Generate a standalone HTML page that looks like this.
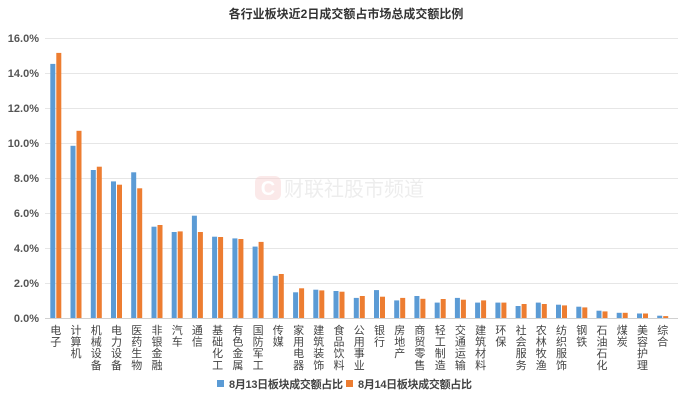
<!DOCTYPE html>
<html><head><meta charset="utf-8"><style>
body{margin:0;background:#fff;}
svg{display:block;font-family:"Liberation Sans","Noto Sans CJK SC",sans-serif;}
</style></head><body>
<svg width="692" height="401" viewBox="0 0 692 401" xmlns="http://www.w3.org/2000/svg">
<text x="346" y="18" text-anchor="middle" font-size="12" font-weight="bold" fill="#333">各行业板块近2日成交额占市场总成交额比例</text>
<g stroke="#e6e6e6" stroke-width="1">
<line x1="45" x2="678" y1="38.5" y2="38.5"/><line x1="45" x2="678" y1="73.5" y2="73.5"/>
<line x1="45" x2="678" y1="108.5" y2="108.5"/><line x1="45" x2="678" y1="143.5" y2="143.5"/>
<line x1="45" x2="678" y1="178.5" y2="178.5"/><line x1="45" x2="678" y1="213.5" y2="213.5"/>
<line x1="45" x2="678" y1="248.5" y2="248.5"/><line x1="45" x2="678" y1="283.5" y2="283.5"/>
</g>
<line x1="45" x2="678" y1="318.5" y2="318.5" stroke="#d0d0d0"/>
<g font-size="11" font-weight="bold" fill="#555" text-anchor="end">
<text x="39" y="42">16.0%</text><text x="39" y="77">14.0%</text><text x="39" y="112">12.0%</text>
<text x="39" y="147">10.0%</text><text x="39" y="182">8.0%</text><text x="39" y="217">6.0%</text>
<text x="39" y="252">4.0%</text><text x="39" y="287">2.0%</text><text x="39" y="322">0.0%</text>
</g>
<g opacity="0.5">
<rect x="255" y="176" width="26" height="24" rx="6" fill="#f8d4d4"/>
<text x="268" y="195" text-anchor="middle" font-size="20" font-weight="bold" fill="#fff">C</text>
<text x="284" y="196" font-size="20" fill="#ddd">财联社股市频道</text>
</g>
<g fill="#5b9bd5">
<rect x="50.3" y="63.9" width="5" height="254.1"/>
<rect x="70.5" y="145.8" width="5" height="172.2"/>
<rect x="90.8" y="170" width="5" height="148"/>
<rect x="111" y="181.4" width="5" height="136.6"/>
<rect x="131.2" y="172.3" width="5" height="145.7"/>
<rect x="151.5" y="226.7" width="5" height="91.3"/>
<rect x="171.7" y="232" width="5" height="86"/>
<rect x="191.9" y="215.7" width="5" height="102.3"/>
<rect x="212.1" y="236.7" width="5" height="81.3"/>
<rect x="232.4" y="238.4" width="5" height="79.6"/>
<rect x="252.6" y="246.6" width="5" height="71.4"/>
<rect x="272.8" y="275.8" width="5" height="42.2"/>
<rect x="293.1" y="292.3" width="5" height="25.7"/>
<rect x="313.3" y="289.7" width="5" height="28.3"/>
<rect x="333.5" y="291" width="5" height="27"/>
<rect x="353.8" y="297.9" width="5" height="20.1"/>
<rect x="374" y="290.1" width="5" height="27.9"/>
<rect x="394.2" y="300.4" width="5" height="17.6"/>
<rect x="414.4" y="296" width="5" height="22"/>
<rect x="434.7" y="302.6" width="5" height="15.4"/>
<rect x="454.9" y="297.9" width="5" height="20.1"/>
<rect x="475.1" y="302.6" width="5" height="15.4"/>
<rect x="495.4" y="302.6" width="5" height="15.4"/>
<rect x="515.6" y="306" width="5" height="12"/>
<rect x="535.8" y="302.6" width="5" height="15.4"/>
<rect x="556" y="304.7" width="5" height="13.3"/>
<rect x="576.3" y="306.7" width="5" height="11.3"/>
<rect x="596.5" y="310.7" width="5" height="7.3"/>
<rect x="616.7" y="312.8" width="5" height="5.2"/>
<rect x="637" y="313.5" width="5" height="4.5"/>
<rect x="657.2" y="315.7" width="5" height="2.3"/>
</g>
<g fill="#ed7d31">
<rect x="56.3" y="52.9" width="5" height="265.1"/>
<rect x="76.5" y="130.8" width="5" height="187.2"/>
<rect x="96.8" y="166.7" width="5" height="151.3"/>
<rect x="117" y="184.7" width="5" height="133.3"/>
<rect x="137.2" y="188.3" width="5" height="129.7"/>
<rect x="157.5" y="225" width="5" height="93"/>
<rect x="177.7" y="231.4" width="5" height="86.6"/>
<rect x="197.9" y="232" width="5" height="86"/>
<rect x="218.1" y="237" width="5" height="81"/>
<rect x="238.4" y="239" width="5" height="79"/>
<rect x="258.6" y="241.9" width="5" height="76.1"/>
<rect x="278.8" y="274" width="5" height="44"/>
<rect x="299.1" y="288.3" width="5" height="29.7"/>
<rect x="319.3" y="290.4" width="5" height="27.6"/>
<rect x="339.5" y="291.7" width="5" height="26.3"/>
<rect x="359.8" y="296" width="5" height="22"/>
<rect x="380" y="296.7" width="5" height="21.3"/>
<rect x="400.2" y="297.9" width="5" height="20.1"/>
<rect x="420.4" y="298.8" width="5" height="19.2"/>
<rect x="440.7" y="299" width="5" height="19"/>
<rect x="460.9" y="299.7" width="5" height="18.3"/>
<rect x="481.1" y="300.4" width="5" height="17.6"/>
<rect x="501.4" y="302.6" width="5" height="15.4"/>
<rect x="521.6" y="304" width="5" height="14"/>
<rect x="541.8" y="304" width="5" height="14"/>
<rect x="562" y="305.4" width="5" height="12.6"/>
<rect x="582.3" y="307.4" width="5" height="10.6"/>
<rect x="602.5" y="311.4" width="5" height="6.6"/>
<rect x="622.7" y="312.8" width="5" height="5.2"/>
<rect x="643" y="313.5" width="5" height="4.5"/>
<rect x="663.2" y="316.1" width="5" height="1.9"/>
</g>
<g font-size="11" fill="#444" text-anchor="middle">
<text y="334"><tspan x="55.8">电</tspan><tspan x="55.8" dy="11.6">子</tspan></text>
<text y="334"><tspan x="76" >计</tspan><tspan x="76" dy="11.6">算</tspan><tspan x="76" dy="11.6">机</tspan></text>
<text y="334"><tspan x="96.3">机</tspan><tspan x="96.3" dy="11.6">械</tspan><tspan x="96.3" dy="11.6">设</tspan><tspan x="96.3" dy="11.6">备</tspan></text>
<text y="334"><tspan x="116.5">电</tspan><tspan x="116.5" dy="11.6">力</tspan><tspan x="116.5" dy="11.6">设</tspan><tspan x="116.5" dy="11.6">备</tspan></text>
<text y="334"><tspan x="136.7">医</tspan><tspan x="136.7" dy="11.6">药</tspan><tspan x="136.7" dy="11.6">生</tspan><tspan x="136.7" dy="11.6">物</tspan></text>
<text y="334"><tspan x="157">非</tspan><tspan x="157" dy="11.6">银</tspan><tspan x="157" dy="11.6">金</tspan><tspan x="157" dy="11.6">融</tspan></text>
<text y="334"><tspan x="177.2">汽</tspan><tspan x="177.2" dy="11.6">车</tspan></text>
<text y="334"><tspan x="197.4">通</tspan><tspan x="197.4" dy="11.6">信</tspan></text>
<text y="334"><tspan x="217.6">基</tspan><tspan x="217.6" dy="11.6">础</tspan><tspan x="217.6" dy="11.6">化</tspan><tspan x="217.6" dy="11.6">工</tspan></text>
<text y="334"><tspan x="237.9">有</tspan><tspan x="237.9" dy="11.6">色</tspan><tspan x="237.9" dy="11.6">金</tspan><tspan x="237.9" dy="11.6">属</tspan></text>
<text y="334"><tspan x="258.1">国</tspan><tspan x="258.1" dy="11.6">防</tspan><tspan x="258.1" dy="11.6">军</tspan><tspan x="258.1" dy="11.6">工</tspan></text>
<text y="334"><tspan x="278.3">传</tspan><tspan x="278.3" dy="11.6">媒</tspan></text>
<text y="334"><tspan x="298.6">家</tspan><tspan x="298.6" dy="11.6">用</tspan><tspan x="298.6" dy="11.6">电</tspan><tspan x="298.6" dy="11.6">器</tspan></text>
<text y="334"><tspan x="318.8">建</tspan><tspan x="318.8" dy="11.6">筑</tspan><tspan x="318.8" dy="11.6">装</tspan><tspan x="318.8" dy="11.6">饰</tspan></text>
<text y="334"><tspan x="339">食</tspan><tspan x="339" dy="11.6">品</tspan><tspan x="339" dy="11.6">饮</tspan><tspan x="339" dy="11.6">料</tspan></text>
<text y="334"><tspan x="359.3">公</tspan><tspan x="359.3" dy="11.6">用</tspan><tspan x="359.3" dy="11.6">事</tspan><tspan x="359.3" dy="11.6">业</tspan></text>
<text y="334"><tspan x="379.5">银</tspan><tspan x="379.5" dy="11.6">行</tspan></text>
<text y="334"><tspan x="399.7">房</tspan><tspan x="399.7" dy="11.6">地</tspan><tspan x="399.7" dy="11.6">产</tspan></text>
<text y="334"><tspan x="419.9">商</tspan><tspan x="419.9" dy="11.6">贸</tspan><tspan x="419.9" dy="11.6">零</tspan><tspan x="419.9" dy="11.6">售</tspan></text>
<text y="334"><tspan x="440.2">轻</tspan><tspan x="440.2" dy="11.6">工</tspan><tspan x="440.2" dy="11.6">制</tspan><tspan x="440.2" dy="11.6">造</tspan></text>
<text y="334"><tspan x="460.4">交</tspan><tspan x="460.4" dy="11.6">通</tspan><tspan x="460.4" dy="11.6">运</tspan><tspan x="460.4" dy="11.6">输</tspan></text>
<text y="334"><tspan x="480.6">建</tspan><tspan x="480.6" dy="11.6">筑</tspan><tspan x="480.6" dy="11.6">材</tspan><tspan x="480.6" dy="11.6">料</tspan></text>
<text y="334"><tspan x="500.9">环</tspan><tspan x="500.9" dy="11.6">保</tspan></text>
<text y="334"><tspan x="521.1">社</tspan><tspan x="521.1" dy="11.6">会</tspan><tspan x="521.1" dy="11.6">服</tspan><tspan x="521.1" dy="11.6">务</tspan></text>
<text y="334"><tspan x="541.3">农</tspan><tspan x="541.3" dy="11.6">林</tspan><tspan x="541.3" dy="11.6">牧</tspan><tspan x="541.3" dy="11.6">渔</tspan></text>
<text y="334"><tspan x="561.5">纺</tspan><tspan x="561.5" dy="11.6">织</tspan><tspan x="561.5" dy="11.6">服</tspan><tspan x="561.5" dy="11.6">饰</tspan></text>
<text y="334"><tspan x="581.8">钢</tspan><tspan x="581.8" dy="11.6">铁</tspan></text>
<text y="334"><tspan x="602">石</tspan><tspan x="602" dy="11.6">油</tspan><tspan x="602" dy="11.6">石</tspan><tspan x="602" dy="11.6">化</tspan></text>
<text y="334"><tspan x="622.2">煤</tspan><tspan x="622.2" dy="11.6">炭</tspan></text>
<text y="334"><tspan x="642.5">美</tspan><tspan x="642.5" dy="11.6">容</tspan><tspan x="642.5" dy="11.6">护</tspan><tspan x="642.5" dy="11.6">理</tspan></text>
<text y="334"><tspan x="662.7">综</tspan><tspan x="662.7" dy="11.6">合</tspan></text>
</g>
<rect x="217" y="380" width="7" height="7" fill="#5b9bd5"/>
<text x="229" y="388" font-size="11" font-weight="bold" fill="#444" textLength="114">8月13日板块成交额占比</text>
<rect x="346" y="380" width="7" height="7" fill="#ed7d31"/>
<text x="358" y="388" font-size="11" font-weight="bold" fill="#444" textLength="114">8月14日板块成交额占比</text>
</svg>
</body></html>
